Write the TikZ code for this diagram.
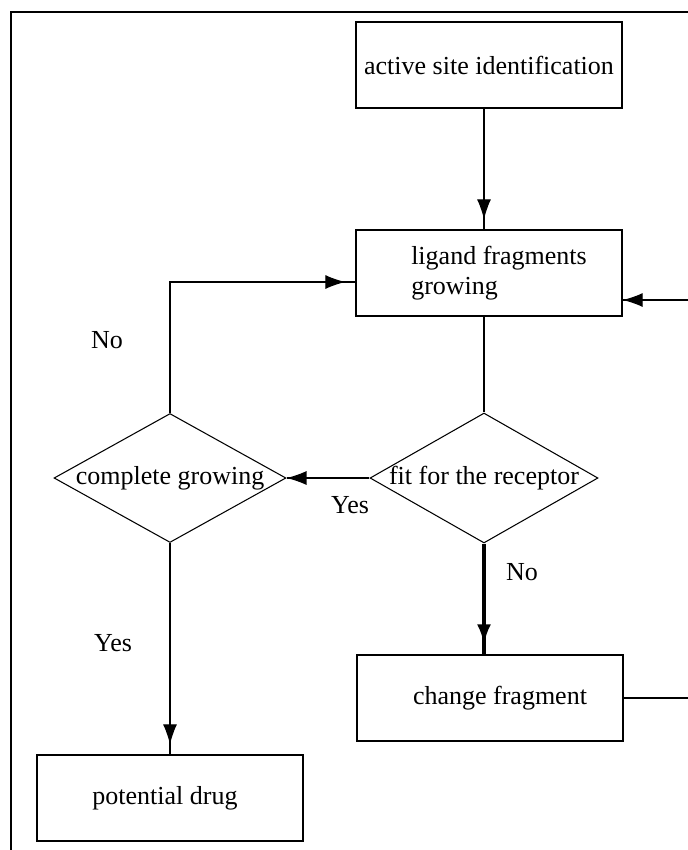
\documentclass[tikz,border=0pt]{standalone}
\usepackage{fontspec}
\setmainfont{Liberation Serif}
\usetikzlibrary{shapes.geometric,arrows.meta,decorations.markings}

\begin{document}
\begin{tikzpicture}[x=0.02cm,y=-0.02cm,
  font=\fontsize{14.8}{17}\selectfont,
  box/.style={draw,thick,rectangle,minimum width=5.32cm,minimum height=1.72cm,inner sep=0pt},
  decision/.style={draw,semithick,diamond,inner sep=0pt},
  lbl/.style={inner sep=0pt},
  arr/.style={semithick,postaction={decorate},decoration={markings,
    mark=at position #1 with {\arrow{Latex[length=4mm,width=2.8mm]}}}},
  arr/.default=-0.2cm]
\useasboundingbox (0,0) rectangle (688,850);
\clip (0,0) rectangle (688,850);
\draw[line width=1pt] (688,12) -- (11,12) -- (11,850);

% boxes and decisions
\node[box] (act) at (489,65) {active site identification};
\node[box,label={[xshift=0.2cm,align=left]center:ligand fragments\\growing}] (lig) at (489,273) {};
\node[decision,minimum width=4.56cm,minimum height=2.6cm,
  label=center:{fit for the receptor}] (fit) at (484,478) {};
\node[decision,minimum width=4.64cm,minimum height=2.58cm,
  label=center:{complete growing}] (cg) at (170,478) {};
\node[box,label={[xshift=0.2cm]center:change fragment}] (chg) at (490,698) {};
\node[box,label={[xshift=-0.1cm]center:potential drug}] (drug) at (170,798) {};

% labels
\node[lbl] (no1) at (107,340) {No};
\node[lbl] (yes1) at (350,505) {Yes};
\node[lbl] (no2) at (522,572) {No};
\node[lbl] (yes2) at (113,643) {Yes};

% connectors
\coordinate (turn) at (710,300);
\draw[arr] (act.south -| fit.north) -- (lig.north -| fit.north);
\draw[semithick] (lig.south -| fit.north) -- (fit.north);
\draw[arr=1] (fit.west) -- (cg.east);
\draw[arr] (cg.north) |- ([yshift=-0.18cm]lig.west);
\draw[arr] (cg.south) -- (drug.north);
\draw[arr,line width=2pt] (fit.south) -- (chg.north -| fit.south);
\draw[arr=1] (chg.east) -| (turn) -- (turn -| lig.east);
\end{tikzpicture}
\end{document}
